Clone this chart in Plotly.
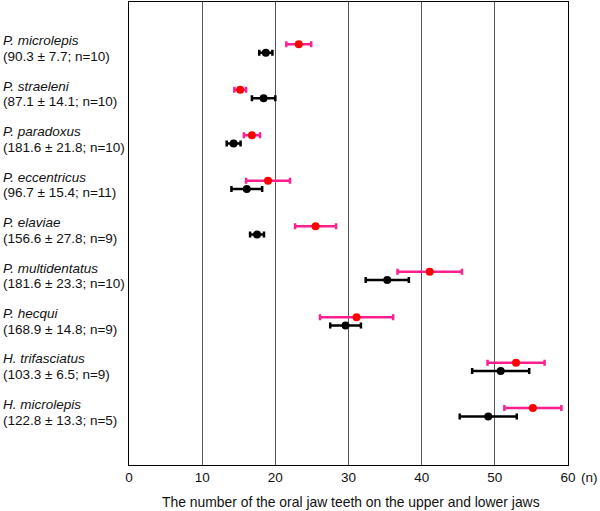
import plotly.graph_objects as go

species = ["P. microlepis", "P. straeleni", "P. paradoxus", "P. eccentricus", "P. elaviae",
           "P. multidentatus", "P. hecqui", "H. trifasciatus", "H. microlepis"]
size_info = ["(90.3 ± 7.7; n=10)", "(87.1 ± 14.1; n=10)", "(181.6 ± 21.8; n=10)",
             "(96.7 ± 15.4; n=11)", "(156.6 ± 27.8; n=9)", "(181.6 ± 23.3; n=10)",
             "(168.9 ± 14.8; n=9)", "(103.3 ± 6.5; n=9)", "(122.8 ± 13.3; n=5)"]

red_mean = [23.2, 15.2, 16.8, 19.0, 25.5, 41.1, 31.1, 52.9, 55.2]
red_sd = [1.7, 0.8, 1.1, 3.0, 2.8, 4.4, 5.0, 3.9, 3.9]
black_mean = [18.7, 18.4, 14.3, 16.1, 17.5, 35.3, 29.6, 50.8, 49.1]
black_sd = [0.9, 1.6, 0.95, 2.1, 0.95, 2.95, 2.1, 3.9, 3.9]

x_ticks = [0, 10, 20, 30, 40, 50, 60]

rows = list(range(len(species)))
off = 0.092
line_off = 0.172
pink = "#ff1f8e"

fig = go.Figure()
fig.add_trace(go.Scatter(
    x=red_mean, y=[r - off for r in rows], mode="markers",
    marker=dict(color="#ff0000", size=8),
    error_x=dict(type="data", array=red_sd, color=pink, thickness=2.5, width=3),
    showlegend=False))
fig.add_trace(go.Scatter(
    x=black_mean, y=[r + off for r in rows], mode="markers",
    marker=dict(color="#000000", size=8),
    error_x=dict(type="data", array=black_sd, color="#000000", thickness=2.5, width=3),
    showlegend=False))

font = "Liberation Sans, Arial, sans-serif"
lab_x = -0.2925
for r, sp, si in zip(rows, species, size_info):
    fig.add_annotation(x=lab_x, xref="paper", y=r - line_off, yref="y",
                       text=f"<i>{sp}</i>", showarrow=False,
                       xanchor="left", yanchor="middle", align="left",
                       font=dict(family=font, size=13.5, color="#111"))
    fig.add_annotation(x=lab_x, xref="paper", y=r + line_off, yref="y",
                       text=si, showarrow=False,
                       xanchor="left", yanchor="middle", align="left",
                       font=dict(family=font, size=13.5, color="#111"))

fig.add_annotation(x=0.5066, xref="paper", y=-0.0795, yref="paper",
                   text="The number of the oral jaw teeth on the upper and lower jaws",
                   showarrow=False, xanchor="center", yanchor="middle",
                   font=dict(family=font, size=13.9, color="#111"))
fig.add_annotation(x=1.049, xref="paper", y=-0.028, yref="paper", text="(n)",
                   showarrow=False, xanchor="center", yanchor="middle",
                   font=dict(family=font, size=13.5, color="#111"))

fig.update_layout(
    width=600, height=511,
    margin=dict(l=129, r=32, t=2, b=46),
    plot_bgcolor="white", paper_bgcolor="white",
    font=dict(family=font, size=13, color="#111"),
)
fig.update_xaxes(range=[0, 60], tickvals=x_ticks, ticktext=[str(t) for t in x_ticks],
                 showgrid=True, gridcolor="#555", gridwidth=1, zeroline=False,
                 showline=True, linecolor="#000", linewidth=1, mirror=True,
                 ticks="", tickfont=dict(size=13.5, color="#111"))
fig.update_yaxes(range=[9.159, -1.022], showticklabels=False, showgrid=False,
                 zeroline=False, showline=True, linecolor="#000", linewidth=1,
                 mirror=True, ticks="")

fig.write_html("out.html", config={"displayModeBar": False},
               post_script="document.body.style.margin='0px';document.body.style.overflow='hidden';")
